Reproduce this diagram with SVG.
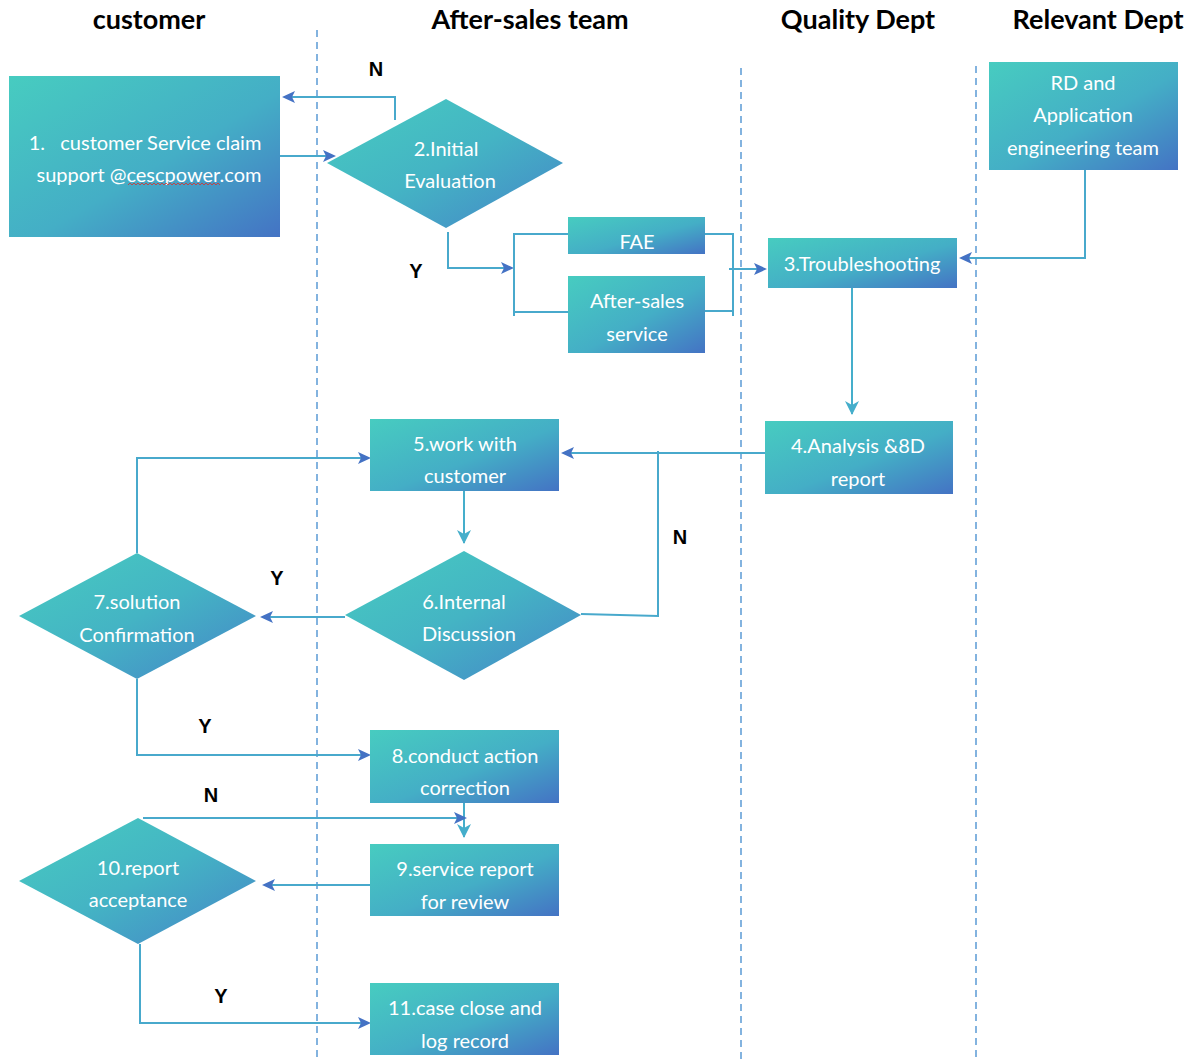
<svg xmlns="http://www.w3.org/2000/svg" width="1191" height="1061" viewBox="0 0 1191 1061">
<defs>
<linearGradient id="g" x1="0" y1="0" x2="1" y2="1">
<stop offset="0" stop-color="#47CCC0"/>
<stop offset="0.55" stop-color="#44AEC6"/>
<stop offset="1" stop-color="#4473C4"/>
</linearGradient>
<linearGradient id="gd" x1="0" y1="0" x2="1" y2="1">
<stop offset="0" stop-color="#47CCC0"/>
<stop offset="0.5" stop-color="#44B4C4"/>
<stop offset="1" stop-color="#4584C8"/>
</linearGradient>
<marker id="ab" markerWidth="13" markerHeight="12" refX="11" refY="6" orient="auto" markerUnits="userSpaceOnUse">
<path d="M0,0 L13,6 L0,12 L3,6 Z" fill="#4472C4"/>
</marker>
<marker id="at" markerWidth="14" markerHeight="14" refX="7" refY="13" orient="0" markerUnits="userSpaceOnUse">
<path d="M0,0 L7,14 L14,0 L7,4 Z" fill="#45AECB"/>
</marker>
</defs>
<style>
.hdr{font-family:Lato,"Liberation Sans",sans-serif;font-weight:bold;font-size:27px;fill:#000;text-anchor:middle}
.lane{stroke:#5B9BD5;stroke-width:1.5;stroke-dasharray:7,5;fill:none}
.box{fill:url(#g)}
.dia{fill:url(#gd)}
.t{font-family:Lato,"Open Sans",sans-serif;font-size:20px;fill:#fff;text-anchor:middle;dominant-baseline:central}
.c{fill:none;stroke:#48A9CC;stroke-width:2}
.ca{fill:none;stroke:#48A9CC;stroke-width:2;marker-end:url(#ab)}
.cv{fill:none;stroke:#45AECB;stroke-width:2;marker-end:url(#at)}
.lbl{font-family:"Liberation Sans",Arial,sans-serif;font-weight:bold;font-size:20px;fill:#000;text-anchor:middle}
</style>

<g id="headers">
<text class="hdr" x="149" y="29">customer</text>
<text class="hdr" x="530" y="29">After-sales team</text>
<text class="hdr" x="858" y="29">Quality Dept</text>
<text class="hdr" x="1098" y="29">Relevant Dept</text>
</g>

<g id="lanes">
<line class="lane" x1="317" y1="30" x2="317" y2="1061"/>
<line class="lane" x1="741" y1="68" x2="741" y2="1061"/>
<line class="lane" x1="976" y1="66" x2="976" y2="1061"/>
</g>

<g id="connectors">
<polyline class="ca" points="395,120 395,97 284,97"/>
<polyline class="ca" points="280,156 334,156"/>
<polyline class="ca" points="448,232 448,268 512,268"/>
<line class="c" x1="514" y1="233" x2="514" y2="316"/>
<line class="c" x1="514" y1="234" x2="568" y2="234"/>
<line class="c" x1="514" y1="312" x2="568" y2="312"/>
<line class="c" x1="733" y1="233" x2="733" y2="316"/>
<line class="c" x1="705" y1="234" x2="733" y2="234"/>
<line class="c" x1="697" y1="311" x2="733" y2="311"/>
<polyline class="ca" points="729,269 765,269"/>
<polyline class="ca" points="1085,170 1085,258 961,258"/>
<polyline class="cv" points="852,288 852,414"/>
<polyline class="ca" points="765,453 563,453"/>
<polyline class="cv" points="464,491 464,543"/>
<polyline class="c" points="581,614 658,616 658,451"/>
<polyline class="ca" points="345,617 262,617"/>
<polyline class="ca" points="137,553 137,458 369,458"/>
<polyline class="ca" points="137,679 137,755 369,755"/>
<polyline class="cv" points="464,803 464,837"/>
<polyline class="ca" points="370,885 264,885"/>
<polyline class="ca" points="143,818 465,818"/>
<polyline class="ca" points="140,944 140,1023 369,1023"/>
</g>

<g id="edge-labels">
<text class="lbl" x="376" y="76">N</text>
<text class="lbl" x="416" y="278">Y</text>
<text class="lbl" x="680" y="544">N</text>
<text class="lbl" x="277" y="585">Y</text>
<text class="lbl" x="205" y="733">Y</text>
<text class="lbl" x="211" y="802">N</text>
<text class="lbl" x="221" y="1003">Y</text>
</g>

<g id="n1">
<rect class="box" x="9" y="76" width="271" height="161"/>
<text class="t" x="145" y="142" xml:space="preserve">1.   customer Service claim</text>
<text class="t" x="149" y="174">support @cescpower.com</text>
<path d="M128,185 l2,-2 l2,2 l2,-2 l2,2 l2,-2 l2,2 l2,-2 l2,2 l2,-2 l2,2 l2,-2 l2,2 l2,-2 l2,2 l2,-2 l2,2 l2,-2 l2,2 l2,-2 l2,2 l2,-2 l2,2 l2,-2 l2,2 l2,-2 l2,2 l2,-2 l2,2 l2,-2 l2,2 l2,-2 l2,2 l2,-2 l2,2 l2,-2 l2,2 l2,-2 l2,2 l2,-2 l2,2 l2,-2 l2,2 l2,-2 l2,2 l2,-2 l2,2" fill="none" stroke="#D9302C" stroke-width="0.8"/>
</g>

<g id="n2">
<polygon class="dia" points="327,163 446,99 563,163 446,228"/>
<text class="t" x="446" y="148">2.Initial</text>
<text class="t" x="450" y="180">Evaluation</text>
</g>

<g id="fae">
<rect class="box" x="568" y="217" width="137" height="37"/>
<text class="t" x="637" y="241">FAE</text>
</g>

<g id="aftersales">
<rect class="box" x="568" y="276" width="137" height="77"/>
<text class="t" x="637" y="300">After-sales</text>
<text class="t" x="637" y="333">service</text>
</g>

<g id="n3">
<rect class="box" x="768" y="238" width="189" height="50"/>
<text class="t" x="862" y="263">3.Troubleshooting</text>
</g>

<g id="rd">
<rect class="box" x="989" y="62" width="189" height="108"/>
<text class="t" x="1083" y="82">RD and</text>
<text class="t" x="1083" y="114">Application</text>
<text class="t" x="1083" y="147">engineering team</text>
</g>

<g id="n4">
<rect class="box" x="765" y="421" width="188" height="73"/>
<text class="t" x="858" y="445">4.Analysis &amp;8D</text>
<text class="t" x="858" y="478">report</text>
</g>

<g id="n5">
<rect class="box" x="370" y="419" width="189" height="72"/>
<text class="t" x="465" y="443">5.work with</text>
<text class="t" x="465" y="475">customer</text>
</g>

<g id="n6">
<polygon class="dia" points="345,615 464,551 581,615 464,680"/>
<text class="t" x="464" y="601">6.Internal</text>
<text class="t" x="469" y="633">Discussion</text>
</g>

<g id="n7">
<polygon class="dia" points="19,616 137,553 256,616 137,679"/>
<text class="t" x="137" y="601">7.solution</text>
<text class="t" x="137" y="634">Confirmation</text>
</g>

<g id="n8">
<rect class="box" x="370" y="730" width="189" height="73"/>
<text class="t" x="465" y="755">8.conduct action</text>
<text class="t" x="465" y="787">correction</text>
</g>

<g id="n9">
<rect class="box" x="370" y="844" width="189" height="72"/>
<text class="t" x="465" y="868">9.service report</text>
<text class="t" x="465" y="901">for review</text>
</g>

<g id="n10">
<polygon class="dia" points="19,881 138,818 256,881 138,944"/>
<text class="t" x="138" y="867">10.report</text>
<text class="t" x="138" y="899">acceptance</text>
</g>

<g id="n11">
<rect class="box" x="370" y="983" width="189" height="72"/>
<text class="t" x="465" y="1007">11.case close and</text>
<text class="t" x="465" y="1040">log record</text>
</g>
</svg>
